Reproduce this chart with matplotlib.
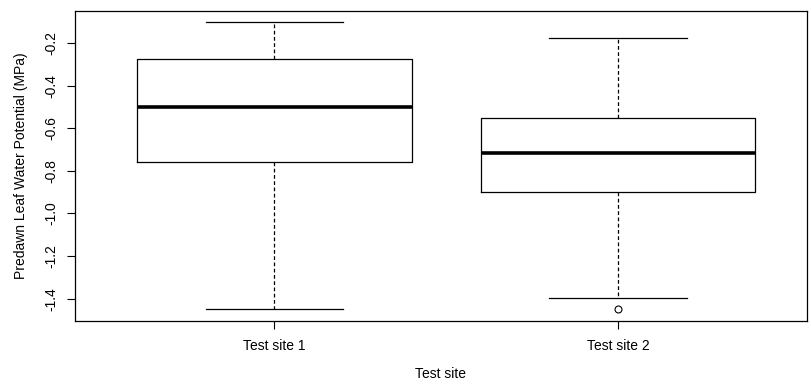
import matplotlib
matplotlib.use("Agg")
import matplotlib.pyplot as plt

plt.rcParams['font.family'] = ['Liberation Sans', 'DejaVu Sans']

categories = ["Test site 1", "Test site 2"]
whislo = [-1.449, -1.397]
q1 = [-0.759, -0.900]
med = [-0.500, -0.716]
q3 = [-0.277, -0.552]
whishi = [-0.100, -0.177]
fliers = [[], [-1.450]]
yticks = [-0.2, -0.4, -0.6, -0.8, -1.0, -1.2, -1.4]

stats = []
for i, c in enumerate(categories):
    stats.append(dict(label=c, whislo=whislo[i], q1=q1[i], med=med[i],
                      q3=q3[i], whishi=whishi[i], fliers=fliers[i]))

fig = plt.figure(figsize=(8.12, 3.85), dpi=100)
ax = fig.add_axes([75/812, 1-321/385, (807-75)/812, (321-11)/385])

ax.bxp(stats, positions=[1, 2], widths=0.8, showfliers=True,
       boxprops=dict(color='black', linewidth=0.9),
       medianprops=dict(color='black', linewidth=2.6),
       whiskerprops=dict(color='black', linewidth=0.9, linestyle=(0, (3, 2))),
       capprops=dict(color='black', linewidth=0.9),
       capwidths=0.4,
       flierprops=dict(marker='o', markerfacecolor='none', markeredgecolor='black',
                       markersize=5, markeredgewidth=0.8))

ax.set_xlim(0.42, 2.55)
ax.set_ylim(-1.505, -0.05)
ax.set_yticks(yticks)
ax.set_yticklabels([f"{v:.1f}" for v in yticks], rotation=90, va='center', fontsize=10)
ax.set_xticks([1, 2])
ax.set_xticklabels(categories, fontsize=10)
ax.tick_params(direction='out', length=6, width=0.8, pad=7)
ax.tick_params(axis='y', pad=6)
for s in ax.spines.values():
    s.set_linewidth(0.9)
ax.set_ylabel("Predawn Leaf Water Potential (MPa)", fontsize=10, labelpad=12)
ax.set_xlabel("Test site", fontsize=10, labelpad=10)

fig.savefig("out.png", dpi=100)
